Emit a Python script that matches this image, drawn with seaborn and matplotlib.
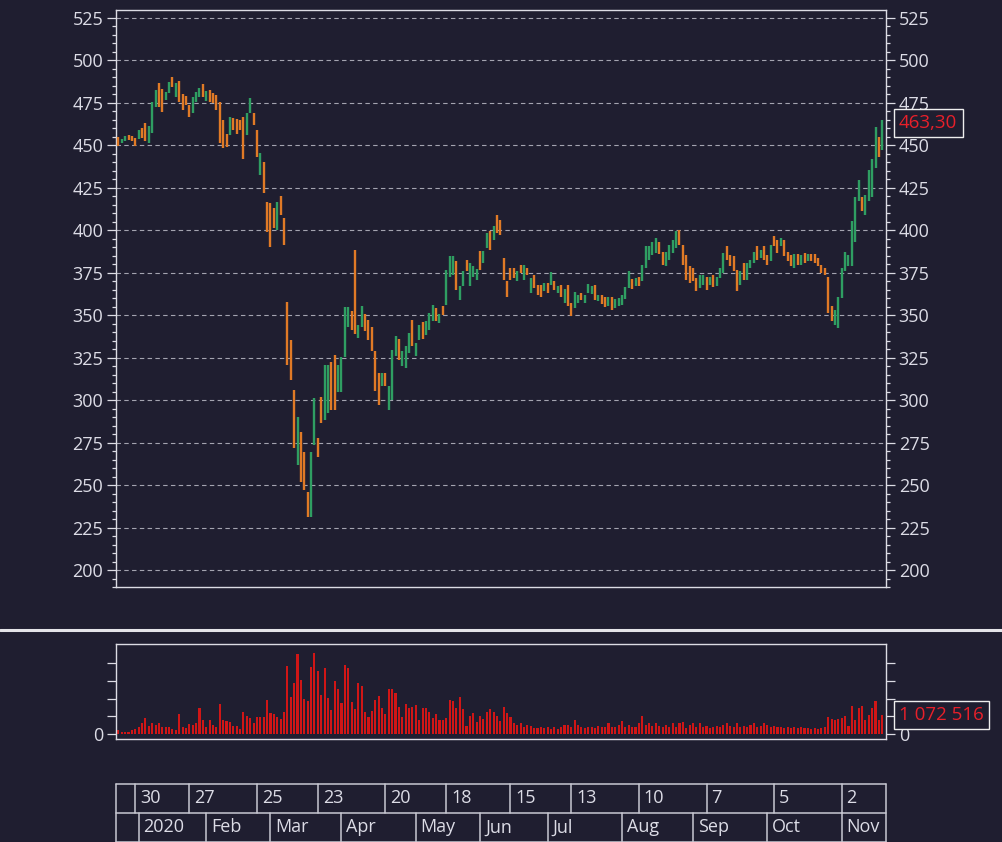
import numpy as np
import pandas as pd
import matplotlib
matplotlib.use("Agg")
import matplotlib.pyplot as plt
import matplotlib.transforms as mtransforms
from matplotlib.lines import Line2D
from matplotlib.ticker import MultipleLocator, FixedLocator
import seaborn as sns

# ---------------- data ----------------
first_day = "2019-12-23"
last_day = "2020-11-19"
holidays = ["2019-12-31", "2020-01-01", "2020-01-02", "2020-01-07", "2020-02-24",
            "2020-03-09", "2020-05-01", "2020-05-11", "2020-06-12", "2020-06-24",
            "2020-07-01", "2020-11-04"]

high_q1 = [455.2, 453.6, 455.6, 456.2, 455.6, 454.2, 459.1, 460.1, 463.0, 461.5,
           475.8, 482.6, 487.0, 483.0, 481.7, 487.5, 490.1, 487.0, 488.1, 480.1,
           479.1, 473.8, 478.7, 481.7, 483.6, 486.2, 482.3, 482.6, 480.7, 479.7,
           475.8, 465.0, 456.8, 466.6, 466.0, 465.4, 465.0, 466.6, 469.3, 477.8,
           469.3, 459.1, 445.4, 440.5, 416.8, 415.9, 413.1, 416.8, 420.2, 407.1,
           358.0, 335.4, 306.0, 290.3, 281.5, 269.7, 246.1, 269.7, 301.1, 277.5]
low_q1 = [449.7, 451.3, 452.3, 453.2, 452.8, 449.7, 453.6, 454.2, 452.3, 451.3,
          457.2, 472.8, 472.8, 469.9, 476.8, 480.7, 484.6, 478.7, 475.8, 470.9,
          473.8, 466.6, 468.9, 475.8, 478.7, 478.3, 476.4, 475.8, 474.8, 470.9,
          451.3, 448.3, 448.9, 456.2, 459.1, 456.8, 459.1, 441.9, 456.2, 469.3,
          462.1, 443.0, 432.6, 421.9, 399.2, 390.4, 401.3, 400.2, 409.0, 391.4,
          320.7, 311.9, 271.6, 261.8, 252.0, 247.1, 231.4, 231.4, 273.6, 266.7]

high_q2 = [302.1, 320.7, 320.7, 322.6, 326.6, 320.7, 325.6, 355.0, 355.0, 352.3,
           388.2, 344.3, 355.4, 351.0, 347.4, 343.0, 328.7, 316.0, 316.0, 316.0,
           308.2, 329.7, 337.5, 336.0, 328.7, 331.6, 339.5, 347.4, 333.6, 344.4,
           345.8, 346.4, 351.3, 356.2, 354.2, 350.9, 355.6, 376.8, 384.6, 384.6,
           381.7, 367.0, 375.8, 382.7, 380.7, 379.1, 377.1, 388.1, 388.1, 398.3,
           399.3, 402.6, 409.1, 406.0, 383.6, 369.9, 377.7, 377.7]
low_q2 = [286.4, 288.3, 292.3, 294.3, 294.3, 305.0, 305.0, 325.6, 343.0, 341.5,
          338.9, 336.4, 343.3, 340.5, 335.6, 328.7, 305.2, 297.4, 308.2, 308.2,
          294.4, 300.3, 325.8, 323.8, 319.9, 318.9, 327.7, 331.7, 326.2, 335.2,
          336.0, 338.5, 341.5, 346.4, 346.4, 345.4, 350.3, 356.2, 372.4, 373.8,
          365.0, 359.1, 367.0, 375.8, 367.0, 372.8, 370.9, 376.4, 380.7, 389.5,
          388.5, 394.4, 398.3, 397.0, 370.9, 360.7, 370.9, 371.9]

high_q3 = [375.8, 379.7, 379.7, 377.7, 371.9, 373.8, 367.9, 367.9, 368.9, 368.9,
           375.2, 369.9, 367.4, 367.9, 365.4, 367.9, 357.2, 363.4, 362.0, 363.0,
           362.0, 368.5, 367.4, 367.9, 362.0, 362.0, 361.0, 361.0, 360.7, 359.5,
           360.1, 362.0, 366.6, 375.8, 371.3, 371.9, 372.8, 379.7, 390.5, 390.5,
           393.4, 395.4, 393.4, 387.5, 387.5, 391.5, 394.4, 399.3, 399.9, 391.5,
           385.6, 378.7]
low_q3 = [369.9, 374.8, 370.9, 373.8, 363.0, 366.0, 362.0, 360.7, 364.0, 363.0,
          368.0, 365.0, 363.0, 361.0, 357.2, 355.2, 349.7, 354.2, 357.2, 359.1,
          357.2, 363.0, 362.7, 359.1, 358.1, 356.7, 354.8, 355.6, 353.2, 354.2,
          355.6, 356.2, 359.5, 366.0, 365.4, 367.0, 367.4, 369.9, 377.7, 382.6,
          385.6, 386.6, 386.1, 379.7, 378.7, 382.6, 386.6, 389.5, 391.5, 379.7,
          370.9, 368.9]

high_q4 = [377.7, 371.9, 373.8, 373.8, 372.8, 372.8, 373.8, 372.8, 377.7, 386.6,
           390.9, 385.6, 385.0, 376.8, 375.8, 380.7, 380.7, 382.6, 387.5, 390.5,
           388.5, 390.5, 385.6, 391.5, 396.8, 394.4, 395.4, 394.0, 387.5, 385.6,
           386.2, 386.2, 385.6, 386.6, 386.2, 386.2, 386.2, 383.6, 379.7, 377.7,
           372.8, 355.2, 353.2, 361.0, 377.7, 387.5, 385.6, 405.2, 419.9, 429.7,
           419.9, 420.9, 435.6, 441.9, 460.7, 454.8, 465.0]
low_q4 = [369.9, 364.0, 366.0, 367.9, 365.0, 367.9, 366.6, 367.0, 371.9, 374.8,
          382.6, 378.7, 375.8, 364.0, 367.9, 370.9, 370.9, 377.7, 380.7, 382.6,
          383.6, 382.6, 379.7, 381.7, 390.5, 386.6, 390.5, 384.6, 381.7, 378.7,
          377.7, 379.7, 379.7, 380.7, 381.7, 381.7, 380.7, 378.7, 374.8, 373.8,
          351.3, 346.4, 344.4, 342.5, 360.1, 375.8, 378.7, 378.7, 393.4, 417.0,
          411.1, 409.1, 417.0, 419.9, 436.6, 443.4, 447.4]

# u = session closed up (green), d = closed down (orange); 10 sessions per chunk
direction_chunks = ["duuddduddu", "uudduududd", "dduuududdd", "dddudddduu",
                    "dduddddudd", "ddduddduud", "duudduuuud", "duudddddud",
                    "uuuduuuduu", "duuududuuu", "duuduuuduu", "duddddddud",
                    "ududddudud", "ududduuduu", "ududduduuu", "uududuuuuu",
                    "dduuuudddd", "dduududuuu", "dddduduuud", "uddudduddd",
                    "udududdddd", "dduuuuuuuu", "duuuudu"]

# traded volume, millions of shares
vol_h1 = [0.24, 0.15, 0.11, 0.15, 0.24, 0.28, 0.39, 0.61, 0.89, 0.47,
          0.61, 0.52, 0.61, 0.39, 0.39, 0.39, 0.28, 0.24, 1.14, 0.39,
          0.34, 0.58, 0.52, 0.61, 1.45, 0.80, 0.39, 0.80, 0.52, 0.39,
          1.69, 0.80, 0.76, 0.71, 0.47, 0.47, 0.28, 1.27, 1.02, 0.89,
          0.65, 0.95, 0.95, 0.99, 1.92, 1.17, 1.14, 0.95, 0.84, 1.27,
          3.82, 2.10, 2.89, 4.49, 3.04, 1.96, 1.88, 3.74, 4.53, 3.54,
          2.20, 3.69, 2.01, 1.36, 3.00, 2.51, 1.77, 3.87, 3.69, 1.82,
          1.40, 2.85, 2.70, 1.27, 0.95, 1.32, 1.92, 2.14, 1.45, 1.14,
          2.51, 2.51, 2.33, 1.55, 0.99, 1.69, 1.45, 1.55, 1.64, 0.80,
          1.45, 1.45, 1.27, 0.89, 1.14, 0.80, 0.80, 0.89, 1.92, 1.88,
          1.45, 2.10, 1.40, 0.47, 1.02, 1.21, 0.71, 1.02, 0.84, 1.27,
          1.40, 1.27]
vol_h2 = [1.02, 0.76, 1.55, 1.21, 0.95, 0.61, 0.52, 0.61, 0.39, 0.52,
          0.47, 0.34, 0.34, 0.39, 0.34, 0.39, 0.28, 0.39, 0.28, 0.39,
          0.52, 0.52, 0.39, 0.80, 0.52, 0.43, 0.34, 0.39, 0.39, 0.34,
          0.47, 0.39, 0.39, 0.61, 0.39, 0.39, 0.52, 0.76, 0.39, 0.52,
          0.39, 0.39, 0.61, 1.02, 0.52, 0.61, 0.47, 0.61, 0.47, 0.39,
          0.52, 0.39, 0.61, 0.39, 0.61, 0.71, 0.34, 0.52, 0.61, 0.39,
          0.61, 0.39, 0.47, 0.34, 0.39, 0.47, 0.39, 0.52, 0.61, 0.47,
          0.39, 0.61, 0.39, 0.47, 0.39, 0.52, 0.61, 0.39, 0.47, 0.61,
          0.52, 0.39, 0.47, 0.39, 0.39, 0.34, 0.39, 0.34, 0.39, 0.34,
          0.39, 0.34, 0.34, 0.28, 0.34, 0.28, 0.34, 0.39]
vol_h3 = [0.95, 0.84, 0.80, 0.84, 0.89, 1.02, 0.47, 1.60, 0.80, 1.45,
          1.60, 0.80, 1.08, 1.45, 1.88, 0.80, 1.072516]

last_price_label = "463,30"
last_volume_label = "1 072 516"

week_starts = ["2019-12-30", "2020-01-27", "2020-02-24", "2020-03-23", "2020-04-20",
               "2020-05-18", "2020-06-15", "2020-07-13", "2020-08-10", "2020-09-07",
               "2020-10-05", "2020-11-02"]
month_starts = ["2020-01-01", "2020-02-01", "2020-03-01", "2020-04-01", "2020-05-01",
                "2020-06-01", "2020-07-01", "2020-08-01", "2020-09-01", "2020-10-01",
                "2020-11-01"]
month_labels = ["2020", "Feb", "Mar", "Apr", "May", "Jun", "Jul", "Aug", "Sep", "Oct", "Nov"]

# ---------------- build tables ----------------
high = np.array(high_q1 + high_q2 + high_q3 + high_q4)
low = np.array(low_q1 + low_q2 + low_q3 + low_q4)
vol = np.array(vol_h1 + vol_h2 + vol_h3) * 1e6
direction = "".join(direction_chunks)
n = min(len(high), len(low), len(vol), len(direction))
high, low, vol = high[:n], low[:n], vol[:n]
days = pd.bdate_range(first_day, last_day)
days = days[~days.isin(pd.to_datetime(holidays))]
idx = np.arange(n)
up = np.array([c == "u" for c in direction[:n]])

bars = pd.DataFrame({"i": idx, "high": high, "low": low, "up": up})
vdf = pd.DataFrame({"i": idx, "volume": vol})

# ---------------- style ----------------
BG = "#1f1e30"
GREEN = "#2f9e62"
ORANGE = "#e07a26"
RED = "#d01616"
LABEL_RED = "#e8202a"
TXT = "#dcdce6"
FRAME = "#dcdce4"
GRID = "#a4a4b0"

sns.set_theme(style="dark", rc={
    "axes.facecolor": BG, "figure.facecolor": BG, "savefig.facecolor": BG,
    "axes.edgecolor": FRAME, "text.color": TXT, "xtick.color": FRAME,
    "ytick.color": FRAME, "axes.labelcolor": TXT,
})
plt.rcParams["font.family"] = ["Open Sans", "DejaVu Sans"]

W, H = 1003, 842
fig = plt.figure(figsize=(W / 100, H / 100), dpi=100)


def rect(l, t, r, b):
    return [l / W, 1 - b / H, (r - l) / W, (b - t) / H]


XLIM = (-0.7, 226 + 1.1)

# ---------------- price panel ----------------
ax = fig.add_axes(rect(116, 10, 886, 587))
ax.set_facecolor(BG)
ax.vlines(bars.loc[bars.up, "i"], bars.loc[bars.up, "low"], bars.loc[bars.up, "high"],
          color=GREEN, lw=1.7, zorder=3)
ax.vlines(bars.loc[~bars.up, "i"], bars.loc[~bars.up, "low"], bars.loc[~bars.up, "high"],
          color=ORANGE, lw=1.7, zorder=3)
ax.set_xlim(*XLIM)
ax.set_ylim(190, 529.7)
ax.yaxis.set_major_locator(MultipleLocator(25))
ax.yaxis.set_minor_locator(MultipleLocator(5))
ax.set_xticks([])
ax.grid(False)
ax.grid(axis="y", which="major", color=GRID, linestyle=(0, (4, 3)), lw=0.8, zorder=1)
ax.tick_params(axis="y", which="both", left=True, right=True, labelleft=True,
               labelright=True, direction="out", color=FRAME, labelcolor=TXT,
               labelsize=13)
ax.tick_params(axis="y", which="major", length=6.5, width=0.9, pad=2.6)
ax.tick_params(axis="y", which="minor", length=3.0, width=0.9)
for s in ax.spines.values():
    s.set_color(FRAME)
    s.set_linewidth(1.0)
ax.set_xlabel("")
ax.set_ylabel("")

trans_p = mtransforms.blended_transform_factory(ax.transAxes, ax.transData)
ax.text(1 + 13 / 770, 463.3, last_price_label, transform=trans_p, ha="left", va="center",
        color=LABEL_RED, fontsize=13.5, zorder=5, clip_on=False,
        bbox=dict(boxstyle="square,pad=0.28", fc=BG, ec="#eeeeee", lw=1.0))

# ---------------- volume panel ----------------
axv = fig.add_axes(rect(116, 644, 886, 739))
axv.set_facecolor(BG)
sns.barplot(data=vdf, x="i", y="volume", native_scale=True, color=RED, saturation=1,
            width=0.62, errorbar=None, linewidth=0, ax=axv)
axv.set_xlim(*XLIM)
axv.set_ylim(-0.26e6, 5.045e6)
axv.set_xticks([])
axv.yaxis.set_major_locator(FixedLocator([0, 1e6, 2e6, 3e6, 4e6]))
axv.set_yticklabels(["0", "", "", "", ""])
axv.grid(False)
axv.tick_params(axis="y", which="major", left=True, right=True, labelleft=True,
                labelright=True, direction="out", color=FRAME, labelcolor=TXT,
                labelsize=13, length=6.5, width=0.9, pad=2.6)
for s in axv.spines.values():
    s.set_color(FRAME)
    s.set_linewidth(1.0)
axv.set_xlabel("")
axv.set_ylabel("")
trans_v = mtransforms.blended_transform_factory(axv.transAxes, axv.transData)
axv.text(1 + 13 / 770, 1.0725e6, last_volume_label, transform=trans_v, ha="left",
         va="center", color=LABEL_RED, fontsize=13.5, zorder=5, clip_on=False,
         bbox=dict(boxstyle="square,pad=0.26", fc=BG, ec="#eeeeee", lw=1.0))

# separator between panels
fig.add_artist(Line2D([0, 1], [1 - 629.5 / H] * 2, transform=fig.transFigure,
                      color="#e4e4e8", lw=2.2))

# ---------------- date axis ----------------
axd = fig.add_axes(rect(116, 784, 886, 842))
axd.set_xlim(*XLIM)
axd.set_ylim(0, 1)
axd.axis("off")
LC = "#c8c8d2"
MID = 0.505
kw = dict(color=LC, lw=1.1, clip_on=False)
axd.plot(XLIM, [1, 1], **kw)
axd.plot(XLIM, [MID, MID], **kw)
axd.plot(XLIM, [0.005, 0.005], **kw)
axd.plot([XLIM[0]] * 2, [0, 1], **kw)
axd.plot([XLIM[1]] * 2, [0, 1], **kw)

for d in week_starts:
    pos = int(days.searchsorted(pd.Timestamp(d)))
    axd.plot([pos, pos], [MID, 1], **kw)
    axd.text(pos + 1.45, (1 + MID) / 2, str(days[pos].day), ha="left", va="center",
             color=TXT, fontsize=13)
for d, lab in zip(month_starts, month_labels):
    pos = int(days.searchsorted(pd.Timestamp(d)))
    axd.plot([pos, pos], [0, MID], **kw)
    axd.text(pos + 1.45, MID / 2, lab, ha="left", va="center", color=TXT, fontsize=13)

fig.savefig("out.png", dpi=100, facecolor=BG)
